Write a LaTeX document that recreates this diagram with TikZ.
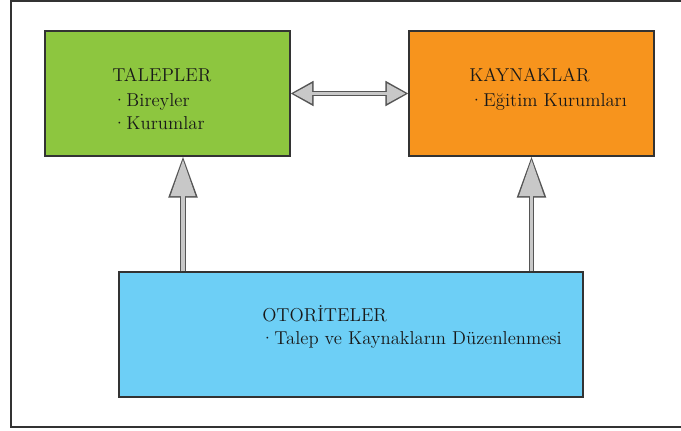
\documentclass[tikz,border=0pt]{standalone}
\usepackage{fontspec}
\usetikzlibrary{positioning,calc}
\usetikzlibrary{arrows.meta}
\definecolor{TalepGreen}{RGB}{141,198,63}
\definecolor{KaynakOrange}{RGB}{247,148,29}
\definecolor{OtoriteBlue}{RGB}{109,207,246}
\definecolor{ArrowFill}{RGB}{200,200,200}
\definecolor{ArrowEdge}{RGB}{85,85,85}
\tikzset{
  frame/.style={draw=black!80,line width=0.9pt},
  box/.style={draw=black!80,line width=0.8pt,inner sep=0pt,minimum width=183.75pt,minimum height=93.75pt},
  lbl/.style={anchor=base west,inner sep=0pt,text=black!90,font=\fontsize{14}{17}\selectfont},
  uparrow/.style={draw=ArrowEdge,line width=4pt,-{Triangle[length=30.75pt,width=21pt]},
    postaction={draw=ArrowFill,line width=2.4pt,shorten >=2.4pt,-{Triangle[length=27.3pt,width=18.2pt]}}},
}
\tikzset{twoway/.style={draw=ArrowEdge,line width=3.75pt,{Triangle[length=17.25pt,width=18pt]}-{Triangle[length=17.25pt,width=18pt]},
    postaction={draw=ArrowFill,line width=2.2pt,shorten >=2.2pt,shorten <=2.2pt,{Triangle[length=14pt,width=14.6pt]}-{Triangle[length=14pt,width=14.6pt]}}}}

\begin{document}
\begin{tikzpicture}[x=0.75pt,y=-0.75pt]
\useasboundingbox (0,0) rectangle (681,430);
\draw[frame] (681,1) -- (11,1) -- (11,427) -- (681,427);
% boxes
\node[box,fill=TalepGreen] (talep) at (167.5,93.5) {};
\node[box,fill=KaynakOrange] (kaynak) at (531.5,93.5) {};
\node[box,fill=OtoriteBlue,minimum width=348pt] (otorite) at (351,334.5) {};
% texts
\node[lbl] (talepbaslik) at (112,81) {TALEPLER};
\node[lbl] (talep1) at (112,106) {·Bireyler};
\node[lbl] (talep2) at (112,129) {·Kurumlar};
\node[lbl] (kaynakbaslik) at (469,81) {KAYNAKLAR};
\node[lbl] (kaynak1) at (469,106) {·Eğitim Kurumları};
\node[lbl] (otoritebaslik) at (262,321) {OTORİTELER};
\node[lbl] (otorite1) at (260,344) {·Talep ve Kaynakların Düzenlenmesi};
% arrows
\coordinate (leftx) at (183,0);
\draw[uparrow] (otorite.north -| leftx) -- (talep.south -| leftx);
\draw[uparrow] (otorite.north -| kaynak.south) -- (kaynak.south);
\draw[twoway] (talep.east) -- (kaynak.west);
\end{tikzpicture}
\end{document}
